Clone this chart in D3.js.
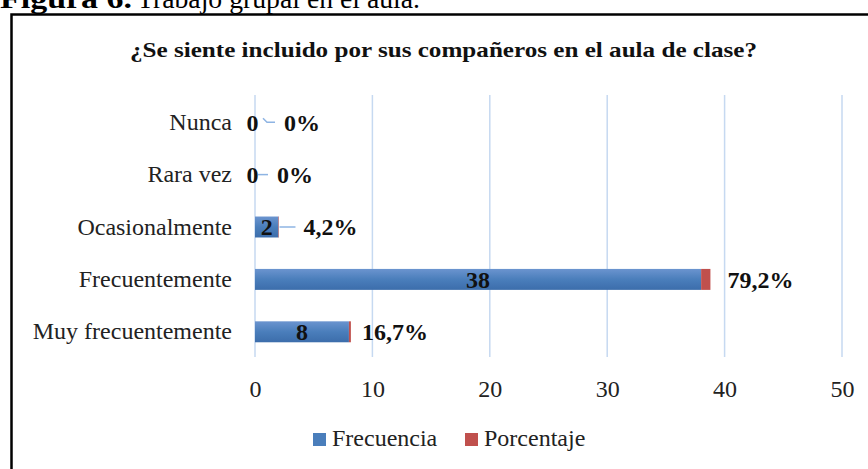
<!DOCTYPE html>
<html>
<head>
<meta charset="utf-8">
<script src="https://cdn.jsdelivr.net/npm/d3@7"></script>
<style>
  body { margin: 0; background: #fff; }
  svg { display: block; font-family: "Liberation Serif", "Times New Roman", serif; }
</style>
</head>
<body>
<svg width="868" height="469"></svg>
<script>
const categories = ['Nunca', 'Rara vez', 'Ocasionalmente', 'Frecuentemente', 'Muy frecuentemente'];
const frecuencia = [0, 0, 2, 38, 8];
const porcentaje = [0, 0, 0.042, 0.792, 0.167];
const porcentajeLabels = ['0%', '0%', '4,2%', '79,2%', '16,7%'];
const xTicks = [0, 10, 20, 30, 40, 50];
const seriesNames = ['Frecuencia', 'Porcentaje'];

const blue = '#4a7ebb';
const red = '#c0504d';
const fontSize = 24;

let svg = d3.select('svg');

// caption (cut off at the top, like the screenshot)
svg.append('text')
    .attr('x', 0)
    .attr('y', 8)
    .attr('font-size', 28)
    .attr('font-weight', 'bold')
    .attr('textLength', 132)
    .attr('lengthAdjust', 'spacingAndGlyphs')
    .text('Figura 6.');
svg.append('text')
    .attr('x', 137)
    .attr('y', 8)
    .attr('font-size', 27.5)
    .attr('textLength', 283)
    .attr('lengthAdjust', 'spacingAndGlyphs')
    .text('Trabajo grupal en el aula.');

// chart border
svg.append('rect')
    .attr('x', 11.5)
    .attr('y', 14.5)
    .attr('width', 900)
    .attr('height', 500)
    .attr('fill', 'none')
    .attr('stroke', '#000')
    .attr('stroke-width', 2.5);

svg.append('text')
    .attr('x', 130)
    .attr('y', 57)
    .attr('font-size', 22)
    .attr('font-weight', 'bold')
    .attr('fill', '#111')
    .attr('textLength', 627)
    .attr('lengthAdjust', 'spacingAndGlyphs')
    .text('¿Se siente incluido por sus compañeros en el aula de clase?');

let xScale = d3.scaleLinear().domain([0, 50]).range([255, 842]);
let yScale = d3.scaleBand().domain(categories).range([96, 358]).paddingInner(0.6).paddingOuter(0.3);

// gridlines
svg.append('g')
    .selectAll('line')
    .data(xTicks)
    .enter()
    .append('line')
        .attr('x1', d => xScale(d))
        .attr('x2', d => xScale(d))
        .attr('y1', 95)
        .attr('y2', 357)
        .attr('stroke', '#c6d9f1')
        .attr('stroke-width', 1.5);

// x axis (labels only)
let xAxis = d3.axisBottom(xScale).tickValues(xTicks).tickSize(0).tickPadding(0);
let gx = svg.append('g')
    .attr('transform', 'translate(0,' + 380 + ')')
    .call(xAxis);
gx.select('.domain').remove();
gx.selectAll('text')
    .attr('font-family', '"Liberation Serif", serif')
    .attr('font-size', fontSize)
    .attr('fill', '#222');

// y axis (labels only)
let yAxis = d3.axisLeft(yScale).tickSize(0).tickPadding(0);
let gy = svg.append('g')
    .attr('transform', 'translate(' + 232 + ',0)')
    .call(yAxis);
gy.select('.domain').remove();
gy.selectAll('text')
    .attr('font-family', '"Liberation Serif", serif')
    .attr('font-size', fontSize)
    .attr('fill', '#222');

let defs = svg.append('defs');
let grad = defs.append('linearGradient').attr('id', 'gBlue').attr('x1', 0).attr('x2', 0).attr('y1', 0).attr('y2', 1);
grad.append('stop').attr('offset', '0%').attr('stop-color', '#6b94cf');
grad.append('stop').attr('offset', '50%').attr('stop-color', '#4a7ebb');
grad.append('stop').attr('offset', '100%').attr('stop-color', '#3c6dab');

let bars = svg.append('g');
bars.selectAll('rect.frec')
    .data(categories)
    .enter()
    .append('rect')
        .attr('class', 'frec')
        .attr('x', xScale(0))
        .attr('y', d => yScale(d))
        .attr('width', (d, i) => xScale(frecuencia[i]) - xScale(0))
        .attr('height', yScale.bandwidth())
        .attr('fill', 'url(#gBlue)');

bars.selectAll('rect.pct')
    .data(categories)
    .enter()
    .append('rect')
        .attr('class', 'pct')
        .attr('x', (d, i) => xScale(frecuencia[i]))
        .attr('y', d => yScale(d))
        .attr('width', (d, i) => xScale(frecuencia[i] + porcentaje[i]) - xScale(frecuencia[i]))
        .attr('height', yScale.bandwidth())
        .attr('fill', red);

let mid = d => yScale(d) + yScale.bandwidth() / 2;

// frequency labels, centered on the blue segment
svg.append('g')
    .selectAll('text')
    .data(categories)
    .enter()
    .append('text')
        .attr('x', (d, i) => frecuencia[i] === 0 ? xScale(0) - 2.5 : xScale(frecuencia[i] / 2))
        .attr('y', mid)
        .attr('dy', '0.35em')
        .attr('text-anchor', 'middle')
        .attr('font-size', fontSize)
        .attr('font-weight', 'bold')
        .attr('fill', '#111')
        .text((d, i) => frecuencia[i]);

// percentage labels; small bars get a leader line
let leaderStart = [8, 3, 0.5, 0, 0];
let leaderLen = [12, 10, 16, 0, 0];
let labelGap = [9, 9, 8, 17, 11];
let pctG = svg.append('g');
categories.forEach((c, i) => {
    let end = xScale(frecuencia[i] + porcentaje[i]);
    let start = end + leaderStart[i];
    let y = mid(c);
    if (leaderLen[i] > 0) {
        let pts = i === 0
            ? [[start, y - 4], [start + 4, y], [start + leaderLen[i], y]]
            : [[start, y], [start + leaderLen[i], y]];
        pctG.append('path')
            .attr('d', d3.line()(pts))
            .attr('fill', 'none')
            .attr('stroke', '#8eb4e3')
            .attr('stroke-width', 1.5);
    }
    pctG.append('text')
        .attr('x', start + leaderLen[i] + labelGap[i])
        .attr('y', y)
        .attr('dy', '0.35em')
        .attr('font-size', fontSize)
        .attr('font-weight', 'bold')
        .attr('fill', '#111')
        .text(porcentajeLabels[i]);
});

// legend
let legend = svg.append('g').attr('transform', 'translate(313,446)');
let legendX = [0, 152];
seriesNames.forEach((name, i) => {
    legend.append('rect')
        .attr('x', legendX[i])
        .attr('y', -13)
        .attr('width', 13)
        .attr('height', 13)
        .attr('fill', i === 0 ? blue : red);
    legend.append('text')
        .attr('x', legendX[i] + 19)
        .attr('y', 0)
        .attr('font-size', fontSize)
        .attr('fill', '#222')
        .text(name);
});
</script>
</body>
</html>
